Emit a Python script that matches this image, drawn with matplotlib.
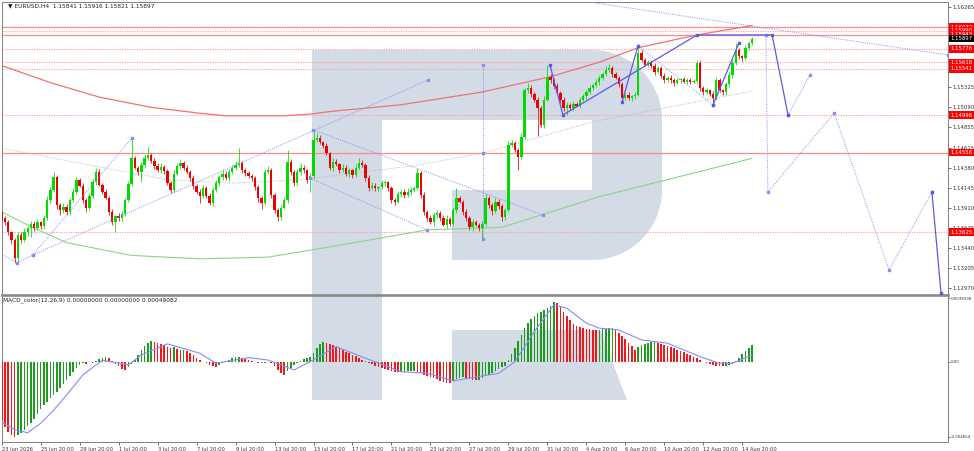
import numpy as np
import matplotlib
matplotlib.use("Agg")
import matplotlib.pyplot as plt
from matplotlib.patches import Polygon, Rectangle

# ---- price data (EURUSD H4) ----
open0 = 1.1384
closes = [
    1.1379, 1.1374, 1.1362, 1.1353, 1.1332, 1.1359, 1.1353, 1.1362, 1.1367, 1.1372,
    1.1367, 1.1374, 1.1370, 1.1379, 1.1400, 1.1412, 1.1427, 1.1394, 1.1388, 1.1392,
    1.1386, 1.1400, 1.1410, 1.1424, 1.1417, 1.1400, 1.1391, 1.1405, 1.1421, 1.1433,
    1.1418, 1.1410, 1.1403, 1.1386, 1.1374, 1.1381, 1.1379, 1.1384, 1.1400, 1.1419,
    1.1449, 1.1438, 1.1433, 1.1441, 1.1449, 1.1453, 1.1446, 1.1440, 1.1435, 1.1439,
    1.1434, 1.1420, 1.1412, 1.1431, 1.1440, 1.1444, 1.1438, 1.1433, 1.1426, 1.1417,
    1.1410, 1.1405, 1.1414, 1.1405, 1.1397, 1.1412, 1.1420, 1.1427, 1.1431, 1.1426,
    1.1433, 1.1438, 1.1441, 1.1444, 1.1435, 1.1432, 1.1428, 1.1426, 1.1415, 1.1402,
    1.1397, 1.1433, 1.1435, 1.1406, 1.1388, 1.1380, 1.1391, 1.1400, 1.1445, 1.1433,
    1.1420, 1.1433, 1.1438, 1.1435, 1.1424, 1.1428, 1.1471, 1.1473, 1.1468, 1.1464,
    1.1455, 1.1438, 1.1445, 1.1442, 1.1435, 1.1438, 1.1431, 1.1435, 1.1429, 1.1438,
    1.1444, 1.1441, 1.1426, 1.1414, 1.1417, 1.1414, 1.1415, 1.1420, 1.1421, 1.1414,
    1.1400, 1.1398, 1.1407, 1.1410, 1.1406, 1.1410, 1.1412, 1.1414, 1.1432, 1.1406,
    1.1386, 1.1379, 1.1374, 1.1382, 1.1385, 1.1379, 1.1371, 1.1378, 1.1372, 1.1388,
    1.1402, 1.1398, 1.1386, 1.1379, 1.1368, 1.1374, 1.1371, 1.1367, 1.1372, 1.1402,
    1.1394, 1.1387, 1.1398, 1.1393, 1.1380, 1.1388, 1.1465, 1.1467, 1.1459, 1.1451,
    1.1474, 1.1529, 1.1532, 1.1525, 1.1518, 1.1508, 1.1488, 1.1518, 1.1545, 1.1541,
    1.1534, 1.1526, 1.1518, 1.1508, 1.1512, 1.1508, 1.1513, 1.1511, 1.1518, 1.1522,
    1.1527, 1.1532, 1.1535, 1.1539, 1.1544, 1.1548, 1.1553, 1.1555, 1.1548, 1.1544,
    1.1536, 1.1520, 1.1524, 1.1520, 1.1522, 1.1524, 1.1573, 1.1565, 1.1559, 1.1562,
    1.1558, 1.1551, 1.1555, 1.1546, 1.1541, 1.1544, 1.1541, 1.1538, 1.1541, 1.1542,
    1.1539, 1.1541, 1.1539, 1.1540, 1.1561, 1.1532, 1.1527, 1.1529, 1.1525, 1.1520,
    1.1541, 1.1529, 1.1527, 1.1536, 1.1547, 1.1561, 1.1576, 1.1569, 1.1567, 1.1579,
    1.1584, 1.15897,
]
# wick lengths in pips (0.0001) above / below the body
upper_wick = [
    3, 2, 3, 2, 2, 4, 3, 5, 3, 4,
    3, 4, 2, 3, 5, 3, 6, 2, 3, 4,
    3, 2, 4, 3, 2, 3, 2, 3, 4, 5,
    3, 2, 3, 2, 3, 2, 4, 3, 2, 4,
    24, 3, 2, 4, 5, 9, 2, 3, 3, 4,
    2, 3, 3, 4, 3, 4, 2, 3, 2, 3,
    2, 3, 4, 2, 3, 3, 4, 2, 5, 3,
    4, 3, 5, 17, 2, 3, 2, 3, 2, 3,
    3, 4, 5, 3, 2, 3, 3, 4, 14, 3,
    2, 4, 5, 3, 2, 4, 11, 6, 3, 2,
    3, 2, 4, 3, 2, 4, 3, 3, 2, 4,
    5, 3, 2, 3, 4, 3, 2, 4, 3, 2,
    3, 2, 4, 3, 3, 4, 3, 2, 6, 2,
    3, 2, 3, 4, 3, 2, 3, 4, 2, 4,
    12, 3, 2, 3, 2, 4, 3, 2, 3, 5,
    3, 2, 4, 3, 2, 3, 5, 4, 3, 2,
    4, 3, 5, 3, 2, 3, 2, 4, 14, 3,
    2, 3, 2, 3, 3, 2, 3, 2, 3, 3,
    2, 3, 2, 3, 3, 2, 4, 5, 2, 3,
    2, 3, 2, 3, 2, 3, 7, 3, 2, 3,
    2, 3, 3, 2, 3, 2, 3, 2, 3, 2,
    3, 2, 3, 2, 4, 3, 2, 3, 2, 3,
    4, 3, 2, 3, 3, 4, 9, 3, 2, 3,
    3, 2,
]
lower_wick = [
    2, 3, 3, 4, 6, 5, 3, 2, 4, 10,
    3, 2, 4, 3, 2, 3, 2, 4, 5, 3,
    4, 3, 2, 3, 2, 3, 5, 3, 2, 3,
    2, 3, 2, 4, 3, 12, 3, 4, 3, 2,
    3, 2, 4, 12, 3, 2, 3, 4, 2, 3,
    3, 2, 4, 3, 2, 3, 3, 2, 3, 4,
    3, 8, 2, 3, 3, 4, 2, 3, 3, 2,
    3, 2, 3, 2, 3, 4, 2, 3, 3, 4,
    8, 3, 2, 4, 3, 5, 3, 2, 3, 4,
    3, 2, 4, 3, 4, 14, 2, 3, 2, 3,
    2, 3, 4, 2, 3, 2, 3, 4, 3, 2,
    3, 2, 4, 3, 2, 3, 3, 2, 4, 3,
    3, 4, 2, 3, 3, 2, 4, 3, 2, 3,
    4, 3, 2, 4, 3, 3, 2, 4, 3, 2,
    3, 2, 4, 3, 3, 4, 2, 3, 13, 2,
    3, 4, 2, 3, 4, 3, 2, 3, 2, 16,
    3, 2, 3, 4, 3, 33, 2, 3, 2, 3,
    3, 2, 4, 3, 8, 2, 3, 2, 3, 2,
    3, 2, 3, 2, 4, 3, 2, 3, 3, 2,
    3, 5, 3, 2, 4, 3, 2, 3, 2, 3,
    3, 4, 2, 3, 3, 2, 3, 4, 2, 3,
    2, 3, 3, 2, 3, 4, 3, 2, 3, 8,
    3, 2, 3, 4, 3, 3, 2, 3, 4, 2,
    3, 2,
]

# MACD histogram, units of 1e-5
macd_hist = [
    -360, -404, -435, -456, -466,
    -455, -440, -420, -400, -380, -355, -325, -295, -270, -248, -225, -205, -185, -160, -140, -115, -90, -65, -40,
    -22, -10, -14, -5, -8, 6,
    15, 24, 28,
    20, 5, -15, -30, -45, -51,
    -35, -15,
    10, 40, 70, 95, 115, 129,
    124, 118, 110, 100, 93,
    85, 88, 80, 72, 75, 65, 55,
    40, 25, 10, 0,
    -10, -20, -28, -33,
    -20,
    -8, 3, 12, 20, 26, 29,
    22, 15, 8,
    2, -4, -8, -10,
    -6, -2, -8,
    -30, -52, -70, -82,
    -60, -38, -20, -8,
    5, 15, 22, 29,
    55, 85, 110, 124,
    118, 110, 100, 92, 82, 72, 62, 52, 42, 32, 22, 12, 3,
    -8, -16, -24, -32, -40, -46, -52, -57, -61, -64,
    -63, -62, -60, -58, -56,
    -62, -70, -80, -88, -96, -104, -110, -117, -123, -129, -134,
    -122, -110, -102, -98, -104, -108, -112, -114, -113,
    -100, -90, -80, -70, -58, -48, -36, -24,
    10, 50, 85, 125, 165,
    205, 240, 265, 285, 300, 310, 320, 330, 345,
    371,
    363, 340, 310, 285, 255, 232,
    220, 212, 208, 204, 200, 198, 196,
    198, 200, 203, 205, 208,
    196, 180, 160, 140, 118, 95, 75,
    90, 103, 112, 118, 120, 122,
    118, 112, 105, 98, 90, 82, 74, 65, 57, 48, 40, 30, 20, 10,
    -4, -10, -16, -20, -24, -26, -28, -25, -22,
    -12, 5, 25, 45, 65, 85, 100,
]
# signal line, (bar, value 1e-5)
signal_bar = [0, 4, 8, 12, 16, 20, 25, 31, 39, 43, 51, 61, 66, 76, 82, 90, 95, 103, 112, 123,
              131, 139, 153, 158, 164, 170, 174, 180, 184, 190, 197, 205, 215, 221, 225, 231]
signal_val = [-375, -420, -440, -381, -300, -206, -82, 9, -20, 41, 110, 52, -10, 25, 10, -51, 0, 93, 21, -62,
              -72, -119, -72, 0, 186, 351, 330, 238, 207, 196, 134, 114, 31, -10, -10, 41]

# moving averages, (bar, price)
ma_red_bar = [0, 15, 30, 46, 61, 69, 87, 95, 101, 123, 148, 169, 184, 196, 214, 231]
ma_red = [1.1558, 1.1538, 1.1521, 1.1509, 1.1502, 1.1499, 1.1499, 1.1501, 1.1504, 1.1512,
          1.1527, 1.1545, 1.1562, 1.1579, 1.1594, 1.1605]
ma_green_bar = [0, 10, 20, 40, 61, 82, 101, 131, 154, 184, 231]
ma_green = [1.1386, 1.1367, 1.1350, 1.1335, 1.1331, 1.1333, 1.1345, 1.1365, 1.1368, 1.1404, 1.1449]
ma_gray_bar = [0, 30, 51, 71, 92, 101, 128, 148, 182, 231]
ma_gray = [1.1461, 1.1439, 1.1424, 1.1420, 1.1424, 1.1428, 1.1441, 1.1455, 1.1492, 1.1528]

# horizontal levels
levels = [1.16032, 1.15990, 1.15943, 1.15776, 1.15618, 1.15541, 1.14998, 1.14558, 1.13625]
level_solid = [True, False, True, False, False, False, False, True, False]
last_price = 1.15897

# wave / forecast lines, (bar, price) pairs
solid_waves = [
    [(168.8, 1.15587), (172.8, 1.15000), (214.1, 1.15940), (237.2, 1.15940), (242.1, 1.15000)],
    [(191.0, 1.15153), (195.9, 1.15810)],
    [(219.0, 1.15117), (227.0, 1.15846)],
    [(286.4, 1.14095), (289.2, 1.12908)],
]
dotted_waves = [
    [(-0.5, 1.13379), (4.7, 1.13261), (9.6, 1.13355), (40.1, 1.14730)],
    [(9.6, 1.13355), (131.2, 1.15411)],
    [(95.8, 1.14826), (166.7, 1.13825)],
    [(94.9, 1.14259), (131.0, 1.13649)],
    [(148.2, 1.15587), (148.2, 1.14553), (148.2, 1.13543)],
    [(195.9, 1.15810), (219.0, 1.15117)],
    [(242.1, 1.15000), (248.9, 1.15470)],
    [(235.3, 1.15940), (235.9, 1.14095), (256.3, 1.15023), (273.2, 1.13179), (286.4, 1.14095)],
    [(176.5, 1.16351), (291.3, 1.15705)],
]

price_ticks = [1.16265, 1.15325, 1.15090, 1.14855, 1.14615, 1.14380, 1.14145,
               1.13910, 1.13675, 1.13440, 1.13205, 1.12970]
date_labels = ['23 Jun 2026', '25 Jun 20:00', '29 Jun 20:00', '1 Jul 20:00', '3 Jul 20:00',
               '7 Jul 20:00', '9 Jul 20:00', '13 Jul 20:00', '15 Jul 20:00', '17 Jul 20:00',
               '21 Jul 20:00', '23 Jul 20:00', '27 Jul 20:00', '29 Jul 20:00', '31 Jul 20:00',
               '4 Aug 20:00', '6 Aug 20:00', '10 Aug 20:00', '12 Aug 20:00', '14 Aug 20:00']

W, H = 974, 451
fig = plt.figure(figsize=(W / 100, H / 100), dpi=100)
fig.patch.set_facecolor('white')


def box(x0, y0, x1, y1):
    # pixel box -> figure fraction
    return [x0 / W, 1 - y1 / H, (x1 - x0) / W, (y1 - y0) / H]


# watermark logo behind everything
bg = fig.add_axes([0, 0, 1, 1])
bg.set_xlim(0, W)
bg.set_ylim(H, 0)
bg.axis('off')
bg.set_zorder(-1)
logo = '#d3dbe7'
bg.add_patch(Rectangle((312, 50), 70, 350, color=logo, lw=0))
r = 70
t1 = np.linspace(np.pi / 2, 0, 20)
t2 = np.linspace(0, -np.pi / 2, 20)
outline = [(382, 50)]
outline += list(zip(592 + r * np.cos(t1), 120 - r * np.sin(t1)))
outline += list(zip(592 + r * np.cos(t2), 190 - r * np.sin(t2)))
outline += [(452, 260), (452, 190), (592, 190), (592, 120), (382, 120)]
bg.add_patch(Polygon(outline, closed=True, color=logo, lw=0))
bg.add_patch(Polygon([(452, 330), (600, 330), (627, 400), (452, 400)], closed=True, color=logo, lw=0))

xlim = (-0.06, 291.35)
ax = fig.add_axes(box(1.5, 2, 948, 294.5))
ax2 = fig.add_axes(box(1.5, 296, 948, 442))
for a in (ax, ax2):
    a.set_facecolor('none')
    a.set_xlim(*xlim)
    for s in a.spines.values():
        s.set_color('#808080')
        s.set_linewidth(0.7)
ax.spines['bottom'].set_linewidth(1.9)
ax.spines['bottom'].set_color('#8a8a8a')
ax2.spines['top'].set_visible(False)
ax.set_ylim(1.12891, 1.16327)
ax2.set_ylim(-0.00497, 0.00406)

# levels
for p, solid in zip(levels, level_solid):
    if solid:
        ax.axhline(p, color='#ff8a8a', lw=0.9, zorder=1)
    else:
        ax.axhline(p, color='#ff9c9c', lw=0.8, ls=(0, (1, 1.2)), zorder=1)

# moving averages
ax.plot(ma_red_bar, ma_red, color='#f07272', lw=0.9, zorder=2)
ax.plot(ma_green_bar, ma_green, color='#86d886', lw=0.8, zorder=2)
ax.plot(ma_gray_bar, ma_gray, color='#b8b8b8', lw=0.7, ls=(0, (1, 1.5)), zorder=2)

# candles
c = np.array(closes)
o = np.array([open0] + closes[:-1])
hi = np.maximum(o, c) + np.array(upper_wick) * 1e-4
lo = np.minimum(o, c) - np.array(lower_wick) * 1e-4
idx = np.arange(len(c))
col = np.where(c >= o, '#00dc00', '#ee0000')
ax.vlines(idx, lo, hi, colors=col, lw=0.55, zorder=3)
body = np.maximum(np.abs(c - o), 0.00004)
ax.bar(idx, body, bottom=np.minimum(o, c), width=0.72, color=col, lw=0, zorder=4)

# wave lines
for w in dotted_waves:
    xs, ys = zip(*w)
    ax.plot(xs, ys, color='#8c8cf2', lw=0.7, ls=(0, (1, 1.3)), marker='s', ms=1.6, zorder=5)
for w in solid_waves:
    xs, ys = zip(*w)
    ax.plot(xs, ys, color='#5a5ae8', lw=0.9, marker='s', ms=1.8, zorder=5)

# price scale
ax.yaxis.tick_right()
ax.set_yticks(price_ticks, [f'{p:.5f}' for p in price_ticks])
ax.tick_params(axis='y', length=2, width=0.5, colors='#333333', labelsize=3.9, pad=1.5)
ax.set_xticks([])
for p in levels:
    ax.annotate(f'{p:.5f}', xy=(1, p), xycoords=('axes fraction', 'data'),
                xytext=(1.6, 0), textcoords='offset points', ha='left', va='center',
                fontsize=3.9, color='white', annotation_clip=False,
                bbox=dict(boxstyle='square,pad=0.25', fc='#ff0000', ec='none'))
ax.annotate(f'{last_price:.5f}', xy=(1, last_price), xycoords=('axes fraction', 'data'),
            xytext=(1.6, 0), textcoords='offset points', ha='left', va='center',
            fontsize=3.9, color='white', annotation_clip=False,
            bbox=dict(boxstyle='square,pad=0.25', fc='#000000', ec='none'))

# MACD panel
h = np.array(macd_hist) * 1e-5
hcol = ['#ee1a1a'] + ['#1e9a1e' if h[i] > h[i - 1] else '#ee1a1a' for i in range(1, len(h))]
ax2.bar(np.arange(len(h)), h, width=0.5, color=hcol, lw=0, zorder=3)
ax2.plot(signal_bar, np.array(signal_val) * 1e-5, color='#8a8af2', lw=0.8, zorder=4)
ax2.yaxis.tick_right()
ax2.set_yticks([0.0039338, 0.0, -0.004654], ['0.0039338', '0.00', '-0.004654'])
ax2.tick_params(axis='y', length=1.5, width=0.5, colors='#333333', labelsize=2.9, pad=0.6)
ax2.set_xticks(np.arange(len(date_labels)) * 12, date_labels)
ax2.tick_params(axis='x', length=2, width=0.5, colors='#333333', labelsize=3.7, pad=1.5)
for lbl in ax2.get_xticklabels():
    lbl.set_ha('left')

fig.text(8 / W, 1 - 5.5 / H, '\u25bc EURUSD,H4  1.15841 1.15916 1.15821 1.15897',
         fontsize=4.2, color='#222222', va='center', ha='left')
fig.text(3 / W, 1 - 300.5 / H, 'MACD_color(12,26,9) 0.00000000 0.00000000 0.00049082',
         fontsize=4.2, color='#222222', va='center', ha='left')

fig.savefig('out.png', dpi=100, facecolor='white')
